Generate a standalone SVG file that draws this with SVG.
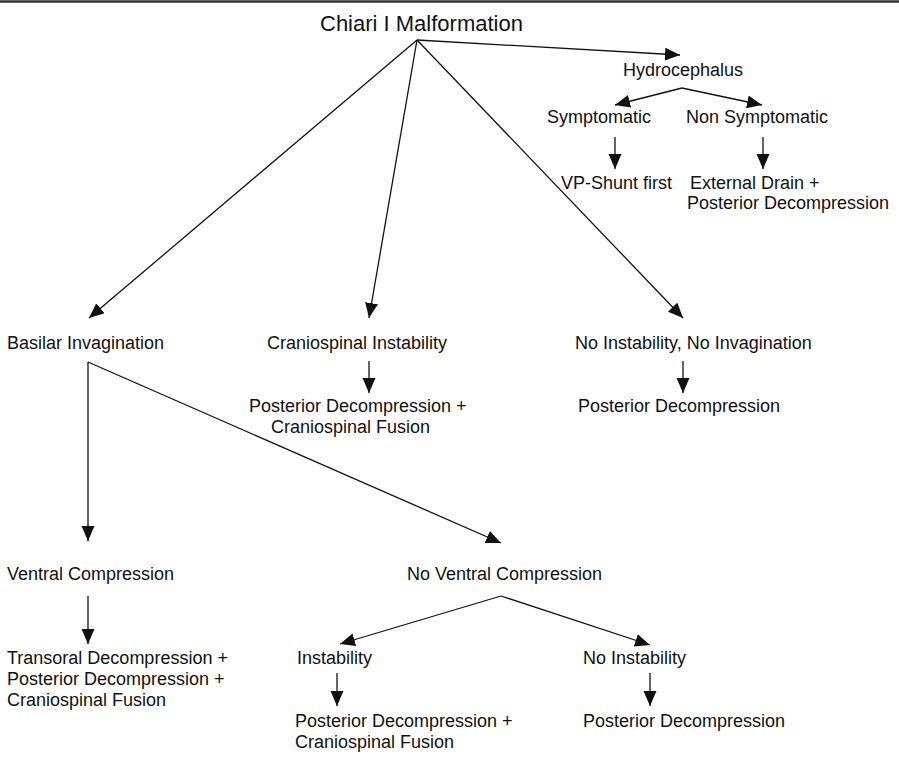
<svg xmlns="http://www.w3.org/2000/svg" width="899" height="762" viewBox="0 0 899 762">
<defs>
<marker id="ah" markerUnits="userSpaceOnUse" markerWidth="16" markerHeight="14" refX="15" refY="6.5" orient="auto">
<path d="M0,0 L15,6.5 L0,13 z" fill="#111"/>
</marker>
<style>
text{font-family:"Liberation Sans",Arial,sans-serif;font-size:18px;fill:#111}
.c line{stroke:#111;stroke-width:1.3;fill:none}
.a{marker-end:url(#ah)}
</style>
</defs>
<rect width="899" height="762" fill="#fff"/>
<line x1="0" y1="1.5" x2="899" y2="1.5" stroke="#333" stroke-width="2.5"/>
<g id="n-chiari"><text x="320" y="31" style="font-size:22px">Chiari I Malformation</text></g>
<g id="n-hydro"><text x="623" y="76">Hydrocephalus</text></g>
<g id="n-sympt"><text x="547" y="123">Symptomatic</text></g>
<g id="n-nonsympt"><text x="686" y="123">Non Symptomatic</text></g>
<g id="n-vpshunt"><text x="561" y="189">VP-Shunt first</text></g>
<g id="n-extdrain"><text x="690" y="189">External Drain +</text><text x="687" y="209">Posterior Decompression</text></g>
<g id="n-basilar"><text x="7" y="349">Basilar Invagination</text></g>
<g id="n-cranio"><text x="267" y="349">Craniospinal Instability</text></g>
<g id="n-noinst"><text x="575" y="349">No Instability, No Invagination</text></g>
<g id="n-pdcf1"><text x="249" y="412">Posterior Decompression +</text><text x="271" y="433">Craniospinal Fusion</text></g>
<g id="n-pd1"><text x="578" y="412">Posterior Decompression</text></g>
<g id="n-ventral"><text x="7" y="580">Ventral Compression</text></g>
<g id="n-noventral"><text x="407" y="580">No Ventral Compression</text></g>
<g id="n-transoral"><text x="7" y="664">Transoral Decompression +</text><text x="7" y="685">Posterior Decompression +</text><text x="7" y="706">Craniospinal Fusion</text></g>
<g id="n-instab"><text x="297" y="664">Instability</text></g>
<g id="n-noinstab"><text x="583" y="664">No Instability</text></g>
<g id="n-pdcf2"><text x="295" y="727">Posterior Decompression +</text><text x="295" y="748">Craniospinal Fusion</text></g>
<g id="n-pd2"><text x="583" y="727">Posterior Decompression</text></g>
<g id="connectors" class="c">
<line class="a" x1="417" y1="40" x2="680" y2="55"/>
<line class="a" x1="417" y1="40" x2="89" y2="318"/>
<line class="a" x1="417" y1="40" x2="369" y2="318"/>
<line class="a" x1="417" y1="40" x2="683" y2="318"/>
<line class="a" x1="682" y1="88" x2="615" y2="105"/>
<line class="a" x1="682" y1="88" x2="762" y2="105"/>
<line class="a" x1="615" y1="137" x2="615" y2="169"/>
<line class="a" x1="763" y1="137" x2="763" y2="169"/>
<line class="a" x1="369" y1="361" x2="369" y2="393"/>
<line class="a" x1="683" y1="361" x2="683" y2="393"/>
<line class="a" x1="88" y1="362" x2="88" y2="541"/>
<line class="a" x1="88" y1="362" x2="501" y2="543"/>
<line class="a" x1="88" y1="596" x2="88" y2="644"/>
<line class="a" x1="501" y1="596" x2="340" y2="644"/>
<line class="a" x1="501" y1="596" x2="650" y2="645"/>
<line class="a" x1="337" y1="673" x2="337" y2="706"/>
<line class="a" x1="650" y1="673" x2="650" y2="706"/>
</g>
</svg>
